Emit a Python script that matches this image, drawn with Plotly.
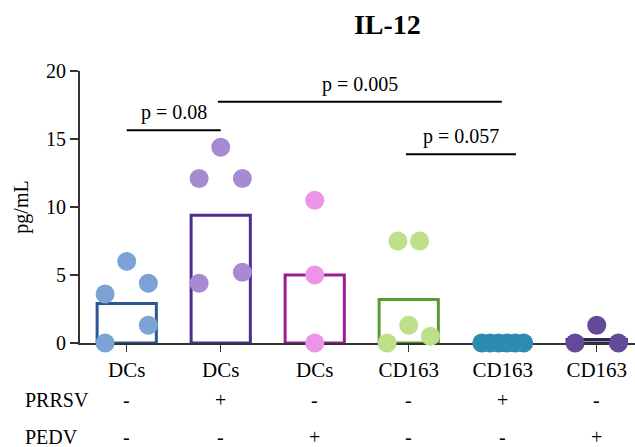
import plotly.graph_objects as go

# ---- data ----
categories = ["DCs", "DCs", "DCs", "CD163", "CD163", "CD163"]
prrsv = ["-", "+", "-", "-", "+", "-"]
pedv = ["-", "-", "+", "-", "-", "+"]
bar_means = [2.9, 9.4, 5.0, 3.2, 0.0, 0.25]

g1_vals = [0.0, 3.6, 6.0, 4.4, 1.3]
g2_vals = [4.4, 12.1, 14.4, 12.1, 5.2]
g3_vals = [10.5, 5.0, 0.0]
g4_vals = [0.0, 7.5, 7.5, 1.3, 0.5]
g5_vals = [0.0, 0.0, 0.0, 0.0, 0.0, 0.0]
g6_vals = [0.0, 1.3, 0.0]

# horizontal jitter (category units) for the scatter dots
g1_jit = [-0.23, -0.23, 0.0, 0.23, 0.23]
g2_jit = [-0.23, -0.23, 0.0, 0.23, 0.23]
g3_jit = [0.0, 0.0, 0.0]
g4_jit = [-0.23, -0.115, 0.115, 0.0, 0.23]
g5_jit = [-0.223, -0.134, -0.045, 0.045, 0.134, 0.223]
g6_jit = [-0.23, 0.0, 0.23]

comparisons = [  # (from idx, to idx, level, label)
    (0.0, 1.0, 15.65, "p = 0.08"),
    (0.97, 3.99, 17.73, "p = 0.005"),
    (2.97, 4.14, 13.87, "p = 0.057"),
]

groups_vals = [g1_vals, g2_vals, g3_vals, g4_vals, g5_vals, g6_vals]
groups_jit = [g1_jit, g2_jit, g3_jit, g4_jit, g5_jit, g6_jit]
dot_colors = ["#7BA3D6", "#A68BD3", "#EB94E8", "#BEE08A", "#2E8BAF", "#644A98"]
bar_colors = ["#2B5797", "#4F2D91", "#9C1E97", "#5B9A2F", "#2F8AAE", "#2D2652"]

FONT = "Liberation Serif"
FS = 20

fig = go.Figure()
idx = list(range(len(categories)))
fig.add_trace(go.Bar(
    x=idx, y=bar_means, width=0.63,
    marker=dict(color="rgba(0,0,0,0)", line=dict(color=bar_colors, width=3)),
    showlegend=False, hoverinfo="skip",
))
for i, (vals, jit) in enumerate(zip(groups_vals, groups_jit)):
    fig.add_trace(go.Scatter(
        x=[i + j for j in jit], y=vals, mode="markers",
        marker=dict(size=19, color=dot_colors[i], line=dict(width=0)),
        cliponaxis=False, showlegend=False,
    ))

for x0, x1, yv, lab in comparisons:
    fig.add_shape(type="line", xref="x", yref="y", x0=x0, x1=x1, y0=yv, y1=yv,
                  line=dict(color="black", width=2))
    fig.add_annotation(x=(x0 + x1) / 2, y=yv, xref="x", yref="y", text=lab,
                       showarrow=False, yanchor="bottom", yshift=4,
                       font=dict(family=FONT, size=FS, color="black"))

# PRRSV / PEDV rows
row_y = [-0.21, -0.345]
for name, signs, yy in [("PRRSV", prrsv, row_y[0]), ("PEDV", pedv, row_y[1])]:
    fig.add_annotation(x=-0.102, y=yy, xref="paper", yref="paper", text=name,
                       showarrow=False, xanchor="left", yanchor="middle",
                       font=dict(family=FONT, size=FS, color="black"))
    for i, s in enumerate(signs):
        fig.add_annotation(x=i, y=yy, xref="x", yref="paper", text=s,
                           showarrow=False, xanchor="center", yanchor="middle",
                           font=dict(family=FONT, size=FS, color="black"))

fig.update_layout(
    width=635, height=447,
    margin=dict(l=80, r=0, t=71, b=104),
    plot_bgcolor="white", paper_bgcolor="white",
    title=dict(text="<b>IL-12</b>", x=0.61, xanchor="center", y=0.945, yanchor="middle",
               font=dict(family=FONT, size=28, color="black")),
    font=dict(family=FONT, color="black"),
    bargap=0,
)
fig.update_xaxes(
    range=[-0.497, 5.407], tickvals=idx, ticktext=categories,
    showline=True, linecolor="#333333", linewidth=2, layer="below traces",
    ticks="outside", ticklen=7, tickwidth=1.5, tickcolor="#333333",
    showgrid=False, zeroline=False,
    tickfont=dict(family=FONT, size=21, color="black"),
)
fig.update_yaxes(
    range=[0, 20], tickvals=[0, 5, 10, 15, 20],
    showline=True, linecolor="#333333", linewidth=2,
    ticks="outside", ticklen=8, tickwidth=1.5, tickcolor="#333333",
    showgrid=False, zeroline=False,
    tickfont=dict(family=FONT, size=20, color="black"),
    title=dict(text="pg/mL", font=dict(family=FONT, size=20, color="black"), standoff=12),
)

fig.write_html("out.html", config={"displayModeBar": False, "staticPlot": True})

# remove the browser's default page margin so the figure fills the window exactly
with open("out.html", encoding="utf-8") as f:
    html = f.read()
html = html.replace("<head>", "<head><style>html,body{margin:0;padding:0;overflow:hidden;}</style>", 1)
with open("out.html", "w", encoding="utf-8") as f:
    f.write(html)
